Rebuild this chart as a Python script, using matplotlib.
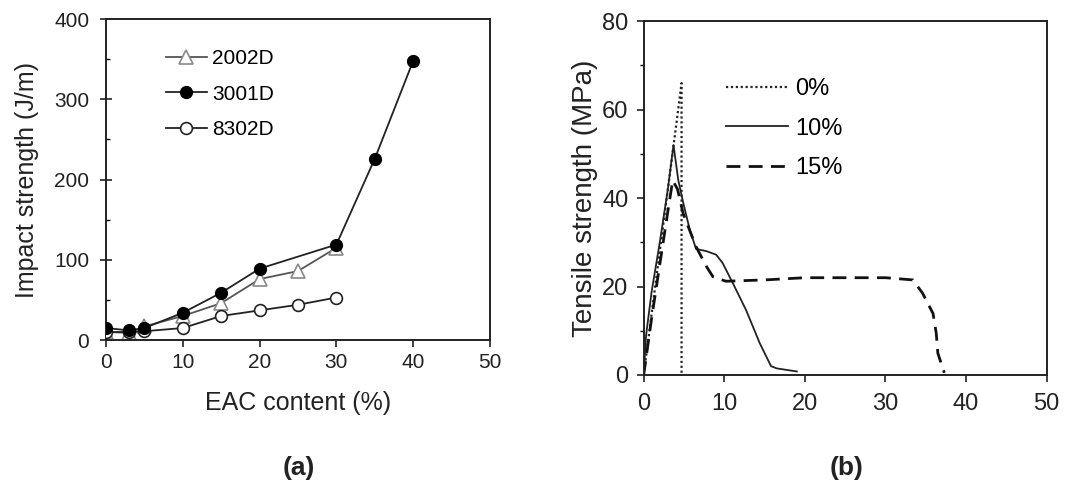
import matplotlib
matplotlib.use("Agg")
import matplotlib.pyplot as plt
from matplotlib.ticker import MultipleLocator

plt.rcParams['font.family'] = ['Liberation Sans', 'DejaVu Sans']

# ---- Panel (a) data ----
x_2002 = [0, 3, 5, 10, 15, 20, 25, 30]
y_2002 = [10, 9, 17, 30, 46, 76, 86, 115]
x_3001 = [0, 3, 5, 10, 15, 20, 30, 35, 40]
y_3001 = [15, 12, 15, 34, 59, 89, 119, 226, 348]
x_8302 = [0, 3, 5, 10, 15, 20, 25, 30]
y_8302 = [10, 10, 11, 15, 30, 37, 44, 53]
labels_a = ["2002D", "3001D", "8302D"]

# ---- Panel (b) data ----
x_0 = [0, 1, 2, 3, 4, 4.7, 4.7]
y_0 = [0, 14, 28, 42, 56, 66, 0]
x_10 = [0, 0.3, 1, 2, 3, 3.7, 4.3, 4.9, 5.7, 6.5, 7.8, 9.0, 9.8, 11.0, 12.7, 14.4, 15.8, 16.5, 19.0]
y_10 = [0, 9, 19, 30, 42, 52, 44, 39, 33, 28.5, 28, 27.2, 25.3, 21, 14.7, 7.2, 2, 1.5, 0.8]
x_15 = [0, 1, 2, 3, 3.6, 4.2, 4.9, 6.5, 7.8, 8.6, 10.2, 15, 20, 30, 33.4, 34.6, 35.9, 36.3, 36.5, 37.3]
y_15 = [0, 13, 25, 37, 44, 42, 36.5, 29, 24.5, 22.2, 21.2, 21.5, 22, 22, 21.5, 18.5, 13.9, 9.4, 4.9, 0.5]
labels_b = ["0%", "10%", "15%"]

fig = plt.figure(figsize=(10.71, 4.90), dpi=100)
tc = '#222222'

# ---- Panel (a) ----
axa = fig.add_axes([0.099, 0.306, 0.3585, 0.655])
axa.plot(x_2002, y_2002, color='#555555', lw=1.3, marker='^', ms=10,
         mfc='white', mec='#888888', mew=1.2, label=labels_a[0], zorder=2)
axa.plot(x_8302, y_8302, color='#222222', lw=1.3, marker='o', ms=8.5,
         mfc='white', mec='#222222', mew=1.2, label=labels_a[2], zorder=3)
axa.plot(x_3001, y_3001, color='#222222', lw=1.3, marker='o', ms=8.5,
         mfc='black', mec='black', label=labels_a[1], zorder=4)
h, l = axa.get_legend_handles_labels()
order = [0, 2, 1]
axa.legend([h[i] for i in order], [l[i] for i in order], loc='upper left',
           bbox_to_anchor=(0.155, 0.907), frameon=False, fontsize=15,
           handlelength=2.0, handletextpad=0.25, labelspacing=0.8,
           borderaxespad=0, borderpad=0)
axa.set_xlim(0, 50)
axa.set_ylim(0, 400)
axa.xaxis.set_major_locator(MultipleLocator(10))
axa.yaxis.set_major_locator(MultipleLocator(100))
axa.yaxis.set_minor_locator(MultipleLocator(50))
axa.tick_params(axis='both', which='major', labelsize=15, colors=tc, width=1.2)
axa.tick_params(axis='x', which='major', direction='out', length=5, pad=4)
axa.tick_params(axis='y', which='major', direction='inout', length=8, pad=8)
axa.tick_params(axis='y', which='minor', direction='in', length=3, width=1)
axa.set_xlabel("EAC content (%)", fontsize=18, color=tc, labelpad=14)
axa.set_ylabel("Impact strength (J/m)", fontsize=18, color=tc, labelpad=11)
for s in axa.spines.values():
    s.set_linewidth(1.4)
    s.set_color('#222222')

# ---- Panel (b) ----
axb = fig.add_axes([0.601, 0.2347, 0.3763, 0.722])
axb.plot(x_0, y_0, color='#222222', lw=1.6, linestyle=(0, (1, 1.2)), label=labels_b[0])
axb.plot(x_10, y_10, color='#222222', lw=1.3, linestyle='-', label=labels_b[1])
axb.plot(x_15, y_15, color='#111111', lw=2.0, linestyle=(0, (5, 3)), label=labels_b[2])
axb.legend(loc='upper left', bbox_to_anchor=(0.205, 0.84), frameon=False, fontsize=17,
           handlelength=2.6, handletextpad=0.3, labelspacing=0.75,
           borderaxespad=0, borderpad=0)
axb.set_xlim(0, 50)
axb.set_ylim(0, 80)
axb.xaxis.set_major_locator(MultipleLocator(10))
axb.yaxis.set_major_locator(MultipleLocator(20))
axb.yaxis.set_minor_locator(MultipleLocator(10))
axb.tick_params(axis='both', which='major', labelsize=17, colors=tc, width=1.2,
                direction='out', length=5)
axb.tick_params(axis='x', which='major', pad=8)
axb.tick_params(axis='y', which='major', pad=6)
axb.tick_params(axis='y', which='minor', direction='out', length=3, width=1)
axb.set_ylabel("Tensile strength (MPa)", fontsize=20, color=tc, labelpad=3)
for s in axb.spines.values():
    s.set_linewidth(1.4)
    s.set_color('#222222')

fig.text(0.279, 0.045, "(a)", fontsize=19, fontweight='bold', ha='center', va='center', color=tc)
fig.text(0.790, 0.045, "(b)", fontsize=19, fontweight='bold', ha='center', va='center', color=tc)

fig.savefig("out.png", dpi=100, facecolor='white')
